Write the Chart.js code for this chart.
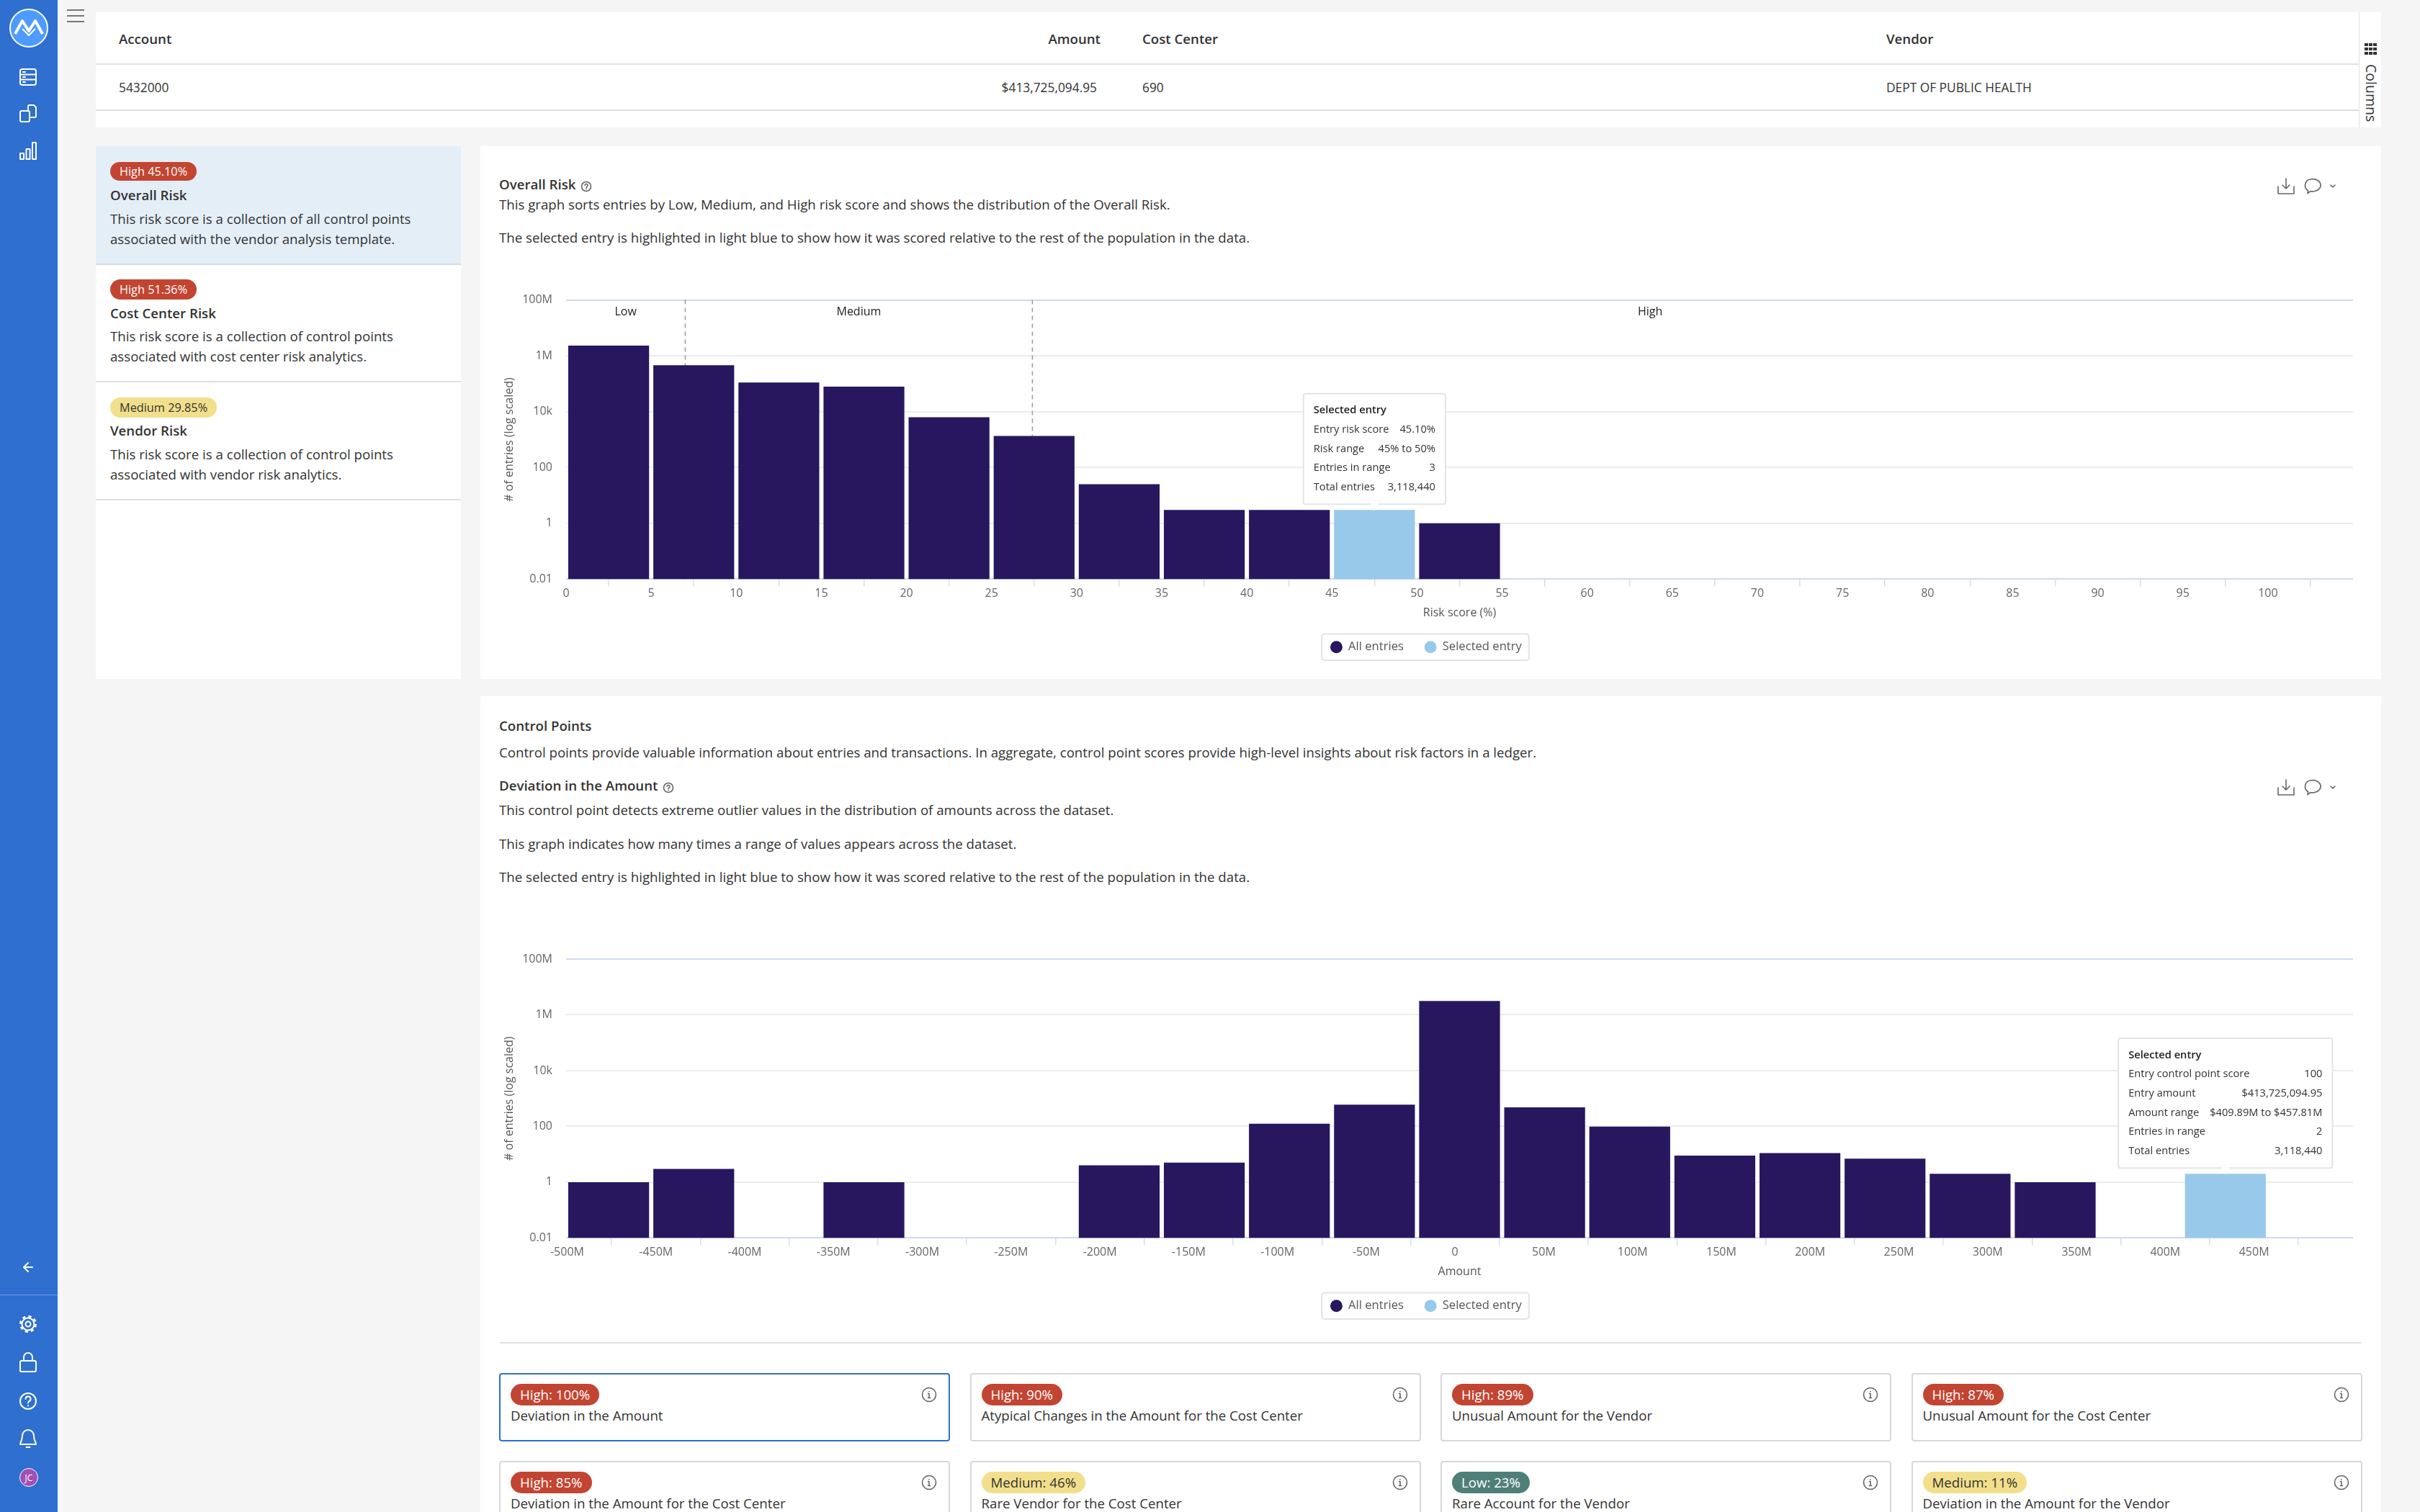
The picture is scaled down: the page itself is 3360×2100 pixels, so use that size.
<!DOCTYPE html>
<html>
<head>
<meta charset="utf-8">
<title>Overall Risk</title>
<script src="https://cdn.jsdelivr.net/npm/chart.js@4"></script>
<style>
  html, body { margin: 0; padding: 0; }
  body { position: relative; width: 3360px; height: 2100px; overflow: hidden; background: #f5f5f5;
         font-family: "Open Sans", sans-serif; font-size: 18.67px; color: #333; }
  .box { position: absolute; background: #fff; }
  .t { position: absolute; white-space: nowrap; transform: translateY(-50%); line-height: 1; }
  .b { font-weight: 600; }
  .cell { font-size: 17.33px; }
  .badge { position: absolute; border-radius: 14px; padding: 0 13px; color: #fff; line-height: 28px; height: 28px; white-space: nowrap; font-size: 16.3px; }
  .high { background: #c24532; }
  .medium { background: #f2df8b; color: #333; }
  .low { background: #4f8078; }
  .card { position: absolute; width: 622px; height: 91px; background: #fff; border: 2px solid #d8d8d8; border-radius: 4px; }
  .card.sel { border-color: #2e6fd0; }
  .card .badge { left: 14px; top: 13px; height: 30px; line-height: 30px; border-radius: 15px; font-size: 18.67px; padding: 0 13px; }
  .card .t { left: 14px; top: 57px; }
  .card svg { position: absolute; right: 17px; top: 18px; }
  .hline { position: absolute; height: 2px; background: #e2e2e2; }
  .side { position: absolute; left: 0; top: 0; width: 80px; height: 2100px; background: #2e6fd0; }
  svg { position: absolute; overflow: visible; }
  .w { fill: none; stroke: #fff; stroke-width: 2; stroke-linecap: round; stroke-linejoin: round; }
  .g { fill: none; stroke: #666; stroke-width: 1.6; stroke-linecap: round; stroke-linejoin: round; }
  canvas { position: absolute; }
</style>
</head>
<body>

<div class="side">
  <svg style="left:13px;top:12px" width="54" height="54" viewBox="0 0 54 54">
    <circle cx="27" cy="27" r="26" fill="#4d9bff" stroke="#fff" stroke-width="2"/>
    <path d="M8 35 L18 17 L27 31 L36 17 L46 35" fill="none" stroke="#fff" stroke-width="4" stroke-linejoin="round"/>
    <path d="M18 28 L27 37 L36 28" fill="none" stroke="#fff" stroke-width="2"/>
  </svg>
  <svg style="left:27px;top:95px" width="24" height="24" viewBox="0 0 24 24">
    <rect class="w" x="1" y="1" width="22" height="22" rx="3"/>
    <path class="w" d="M1 8.5H23M1 15.5H23M5 5H8M5 12H8M5 19H8"/>
  </svg>
  <svg style="left:27px;top:145px" width="24" height="24" viewBox="0 0 24 24">
    <path class="w" d="M12 9V3a2 2 0 0 1 2-2h6l3 3v12a2 2 0 0 1-2 2h-5"/>
    <rect class="w" x="1" y="9" width="13" height="15" rx="2"/>
  </svg>
  <svg style="left:27px;top:197px" width="24" height="24" viewBox="0 0 24 24">
    <path class="w" d="M1 16h5v8H1zM9.5 10h5v14h-5zM18 1h5v23h-5z"/>
  </svg>
  <svg style="left:31px;top:1752px" width="16" height="16" viewBox="0 0 16 16">
    <path class="w" d="M14 8H2M8 2L2 8l6 6" stroke-width="2.4"/>
  </svg>
  <div style="position:absolute;left:0;top:1798px;width:80px;height:1px;background:rgba(255,255,255,.3)"></div>
  <svg style="left:27px;top:1827px" width="24" height="24" viewBox="0 0 24 24">
    <circle class="w" cx="12" cy="12" r="3.500"/>
    <circle class="w" cx="12" cy="12" r="8.500"/>
    <circle cx="12" cy="12" r="10.500" fill="none" stroke="#fff" stroke-width="3" stroke-dasharray="4.200 4.050"/>
  </svg>
  <svg style="left:27px;top:1878px" width="24" height="28" viewBox="0 0 24 28">
    <rect class="w" x="1" y="12" width="22" height="15" rx="2"/>
    <path class="w" d="M6 12V7a6 6 0 0 1 12 0v5"/>
  </svg>
  <svg style="left:27px;top:1934px" width="24" height="24" viewBox="0 0 24 24">
    <circle class="w" cx="12" cy="12" r="11"/>
    <path class="w" d="M8.500 9a3.500 3.500 0 1 1 5 3.200c-1 .6-1.500 1.200-1.500 2.300M12 18v.5"/>
  </svg>
  <svg style="left:27px;top:1985px" width="24" height="27" viewBox="0 0 24 27">
    <path class="w" d="M12 1a8 8 0 0 0-8 8c0 7-3 9-3 12h22c0-3-3-5-3-12a8 8 0 0 0-8-8zM9.500 25h5"/>
  </svg>
  <svg style="left:27px;top:2039px" width="26" height="26" viewBox="0 0 26 26">
    <circle cx="13" cy="13" r="12.500" fill="#a24fb5" stroke="#fff" stroke-width="1"/>
    <text x="13" y="18" text-anchor="middle" font-size="12" fill="#fff" font-family="Open Sans">JC</text>
  </svg>
</div>

<svg style="left:93px;top:13px" width="24" height="18" viewBox="0 0 24 18">
  <path d="M0 1H24M0 9H24M0 17H24" stroke="#777" stroke-width="1.800"/>
</svg>

<!-- tabla superior -->
<div class="box" style="left:133px;top:17px;width:3173px;height:160px"></div>
<div class="hline" style="left:133px;top:88px;width:3142px"></div>
<div class="hline" style="left:133px;top:152px;width:3142px"></div>
<div class="t b" style="left:165px;top:54px">Account</div>
<div class="t b" style="right:1832px;top:54px">Amount</div>
<div class="t b" style="left:1586px;top:54px">Cost Center</div>
<div class="t b" style="left:2619px;top:54px">Vendor</div>
<div class="t cell" style="left:165px;top:122px">5432000</div>
<div class="t cell" style="right:1837px;top:122px">$413,725,094.95</div>
<div class="t cell" style="left:1586px;top:122px">690</div>
<div class="t cell" style="left:2619px;top:122px">DEPT OF PUBLIC HEALTH</div>
<div style="position:absolute;left:3275px;top:17px;width:1px;height:160px;background:#e2e2e2"></div>
<svg style="left:3283px;top:60px" width="17" height="16" viewBox="0 0 17 16">
  <path d="M0 0h5v4H0zM6 0h5v4H6zM12 0h5v4h-5zM0 6h5v4H0zM6 6h5v4H6zM12 6h5v4h-5zM0 12h5v4H0zM6 12h5v4H6zM12 12h5v4h-5z" fill="#333"/>
</svg>
<div style="position:absolute;left:3281px;top:89px;writing-mode:vertical-rl;line-height:22px;font-size:19.5px;white-space:nowrap">Columns</div>

<!-- lista izquierda -->
<div class="box" style="left:133px;top:203px;width:507px;height:740px"></div>
<div style="position:absolute;left:133px;top:203px;width:507px;height:163px;background:#e4eef7"></div>
<div class="hline" style="left:133px;top:366px;width:507px;background:#d7dde3"></div>
<div class="hline" style="left:133px;top:529px;width:507px;background:#dfdfdf"></div>
<div class="hline" style="left:133px;top:693px;width:507px;background:#dfdfdf"></div>

<div class="badge high" style="left:153px;top:225px;height:26px;line-height:26px">High 45.10%</div>
<div class="t b" style="left:153px;top:271px">Overall Risk</div>
<div class="t" style="left:153px;top:304px">This risk score is a collection of all control points</div>
<div class="t" style="left:153px;top:332px">associated with the vendor analysis template.</div>

<div class="badge high" style="left:153px;top:388px">High 51.36%</div>
<div class="t b" style="left:153px;top:435px">Cost Center Risk</div>
<div class="t" style="left:153px;top:467px">This risk score is a collection of control points</div>
<div class="t" style="left:153px;top:495px">associated with cost center risk analytics.</div>

<div class="badge medium" style="left:153px;top:552px">Medium 29.85%</div>
<div class="t b" style="left:153px;top:598px">Vendor Risk</div>
<div class="t" style="left:153px;top:631px">This risk score is a collection of control points</div>
<div class="t" style="left:153px;top:659px">associated with vendor risk analytics.</div>

<!-- panel Overall Risk -->
<div class="box" style="left:667px;top:203px;width:2639px;height:740px"></div>
<div class="t b" style="left:693px;top:256px">Overall Risk</div>
<svg style="left:807px;top:252px" width="14" height="14" viewBox="0 0 14 14">
  <circle class="g" cx="7" cy="7" r="6.500" stroke-width="1"/><path class="g" d="M5 5.500a2 2 0 1 1 3 1.700c-.7.400-1 .8-1 1.500M7 10.500v.3" stroke-width="1"/>
</svg>
<div class="t" style="left:693px;top:284px">This graph sorts entries by Low, Medium, and High risk score and shows the distribution of the Overall Risk.</div>
<div class="t" style="left:693px;top:330px">The selected entry is highlighted in light blue to show how it was scored relative to the rest of the population in the data.</div>
<svg style="left:3162px;top:248px" width="84" height="22" viewBox="0 0 84 22">
  <path class="g" d="M12 0v14M7 9l5 5 5-5M1 11v10h22V11"/>
  <path class="g" d="M46 1a11 8.500 0 0 1 6 16.500c-2 .5-4 .5-6 .2l-4 3 .6-4A8.500 8.500 0 0 1 46 1z"/>
  <path class="g" d="M74 9l3 3 3-3" stroke-width="1"/>
</svg>
<canvas id="riskChart" width="2574" height="535" style="left:693px;top:386px;width:2574px;height:535px"></canvas>

<!-- panel Control Points -->
<div class="box" style="left:667px;top:967px;width:2639px;height:1133px"></div>
<div class="t b" style="left:693px;top:1008px">Control Points</div>
<div class="t" style="left:693px;top:1045px">Control points provide valuable information about entries and transactions. In aggregate, control point scores provide high-level insights about risk factors in a ledger.</div>
<div class="t b" style="left:693px;top:1091px">Deviation in the Amount</div>
<svg style="left:921px;top:1087px" width="14" height="14" viewBox="0 0 14 14">
  <circle class="g" cx="7" cy="7" r="6.500" stroke-width="1"/><path class="g" d="M5 5.500a2 2 0 1 1 3 1.700c-.7.400-1 .8-1 1.500M7 10.500v.3" stroke-width="1"/>
</svg>
<div class="t" style="left:693px;top:1125px">This control point detects extreme outlier values in the distribution of amounts across the dataset.</div>
<div class="t" style="left:693px;top:1172px">This graph indicates how many times a range of values appears across the dataset.</div>
<div class="t" style="left:693px;top:1218px">The selected entry is highlighted in light blue to show how it was scored relative to the rest of the population in the data.</div>
<svg style="left:3162px;top:1083px" width="84" height="22" viewBox="0 0 84 22">
  <path class="g" d="M12 0v14M7 9l5 5 5-5M1 11v10h22V11"/>
  <path class="g" d="M46 1a11 8.500 0 0 1 6 16.500c-2 .5-4 .5-6 .2l-4 3 .6-4A8.500 8.500 0 0 1 46 1z"/>
  <path class="g" d="M74 9l3 3 3-3" stroke-width="1"/>
</svg>
<canvas id="amountChart" width="2574" height="535" style="left:693px;top:1301px;width:2574px;height:535px"></canvas>
<div class="hline" style="left:694px;top:1864px;width:2585px"></div>

<div id="cards"></div>

<script>
// === Datos ===
const yTickValues = [0.01, 1, 100, 10000, 1000000, 100000000];
const yTickLabels = ['0.01', '1', '100', '10k', '1M', '100M'];

const riskBinStarts = [0, 5, 10, 15, 20, 25, 30, 35, 40, 45, 50, 55, 60, 65, 70, 75, 80, 85, 90, 95, 100];
const riskBinWidth = 5;
const riskCounts = [2300000, 457000, 110000, 78000, 6300, 1350, 25, 3, 3, null, 1, null, null, null, null, null, null, null, null, null, null];
const riskSelected = [null, null, null, null, null, null, null, null, null, 3, null, null, null, null, null, null, null, null, null, null, null];
const riskTicks = [0, 5, 10, 15, 20, 25, 30, 35, 40, 45, 50, 55, 60, 65, 70, 75, 80, 85, 90, 95, 100];
const riskTickLabels = ['0', '5', '10', '15', '20', '25', '30', '35', '40', '45', '50', '55', '60', '65', '70', '75', '80', '85', '90', '95', '100'];
const zoneEdges = [0, 7, 27.4, 100];
const zoneNames = ['Low', 'Medium', 'High'];
const riskTipLabels = ['Entry risk score', 'Risk range', 'Entries in range', 'Total entries'];
const riskTipValues = ['45.10%', '45% to 50%', '3', '3,118,440'];

// en millones
const amountBinStarts = [-500.59, -452.67, -404.75, -356.83, -308.91, -260.99, -213.07, -165.15, -117.23, -69.31, -21.39, 26.53, 74.45, 122.37, 170.29, 218.21, 266.13, 314.05, 361.97, 409.89, 457.81];
const amountBinWidth = 47.92;
const amountCounts = [1, 3, null, 1, null, null, 4, 5, 124, 600, 3117000, 480, 98, 9, 11, 7, 2, 1, null, null, null];
const amountSelected = [null, null, null, null, null, null, null, null, null, null, null, null, null, null, null, null, null, null, null, 2, null];
const amountTicks = [-500, -450, -400, -350, -300, -250, -200, -150, -100, -50, 0, 50, 100, 150, 200, 250, 300, 350, 400, 450];
const amountTickLabels = ['-500M', '-450M', '-400M', '-350M', '-300M', '-250M', '-200M', '-150M', '-100M', '-50M', '0', '50M', '100M', '150M', '200M', '250M', '300M', '350M', '400M', '450M'];
const amountTipLabels = ['Entry control point score', 'Entry amount', 'Amount range', 'Entries in range', 'Total entries'];
const amountTipValues = ['100', '$413,725,094.95', '$409.89M to $457.81M', '2', '3,118,440'];

const cardNames = ['Deviation in the Amount', 'Atypical Changes in the Amount for the Cost Center', 'Unusual Amount for the Vendor', 'Unusual Amount for the Cost Center',
  'Deviation in the Amount for the Cost Center', 'Rare Vendor for the Cost Center', 'Rare Account for the Vendor', 'Deviation in the Amount for the Vendor'];
const cardLevels = ['High', 'High', 'High', 'High', 'High', 'Medium', 'Low', 'Medium'];
const cardScores = [100, 90, 89, 87, 85, 46, 23, 11];

// === Tarjetas ===
const cardsEl = document.getElementById('cards');
cardNames.forEach((name, i) => {
  const col = i % 4, row = Math.floor(i / 4);
  const card = document.createElement('div');
  card.className = 'card' + (i === 0 ? ' sel' : '');
  card.style.left = (693 + col * 653.5) + 'px';
  card.style.top = (1907 + row * 122) + 'px';
  card.innerHTML = `<div class="badge ${cardLevels[i].toLowerCase()}">${cardLevels[i]}: ${cardScores[i]}%</div>
    <div class="t">${name}</div>
    <svg width="20" height="20" viewBox="0 0 20 20"><circle class="g" cx="10" cy="10" r="9.500" stroke-width="1.200"/><path class="g" d="M10 8.500v6M10 5.500v.3M8.500 8.500H10M8.500 14.500h3" stroke-width="1"/></svg>`;
  cardsEl.appendChild(card);
});

// === Gráficas ===
Chart.defaults.font.family = '"Open Sans", sans-serif';
Chart.defaults.font.size = 16;
Chart.defaults.animation = false;

const NAVY = '#28175f';
const LIGHT = '#98c9ea';

// Marco redondeado alrededor de la leyenda
const legendFrame = {
  id: 'legendFrame',
  beforeDraw(chart) {
    const boxes = chart.legend.legendHitBoxes;
    const first = boxes[0], last = boxes[boxes.length - 1];
    const ctx = chart.ctx;
    ctx.save();
    ctx.beginPath();
    ctx.roundRect(first.left - 12, first.top - 10, last.left + last.width - first.left + 22, first.height + 20, 4);
    ctx.strokeStyle = '#e3e3e3';
    ctx.lineWidth = 2;
    ctx.stroke();
    ctx.restore();
  }
};

// Zonas Low / Medium / High
const zonesPlugin = {
  id: 'zones',
  beforeDatasetsDraw(chart) {
    const { ctx, chartArea } = chart;
    const x = chart.scales.x;
    ctx.save();
    ctx.strokeStyle = '#9a9a9a';
    ctx.lineWidth = 1.5;
    ctx.setLineDash([6, 5]);
    zoneEdges.slice(1, -1).forEach(edge => {
      const px = x.getPixelForValue(edge);
      ctx.beginPath();
      ctx.moveTo(px, chartArea.top);
      ctx.lineTo(px, chartArea.bottom);
      ctx.stroke();
    });
    ctx.setLineDash([]);
    ctx.fillStyle = '#222';
    ctx.font = '16px "Open Sans"';
    ctx.textAlign = 'center';
    ctx.textBaseline = 'middle';
    zoneNames.forEach((name, i) => {
      ctx.fillText(name, x.getPixelForValue((zoneEdges[i] + zoneEdges[i + 1]) / 2), chartArea.top + 17);
    });
    ctx.restore();
  }
};

// Tooltip fijo sobre la barra seleccionada
function selectedTip(labels, values, index) {
  return {
    id: 'selectedTip',
    afterDatasetsDraw(chart) {
      const bar = chart.getDatasetMeta(1).data[index];
      const ctx = chart.ctx;
      ctx.save();
      ctx.font = '14.67px "Open Sans"';
      let inner = 0;
      labels.forEach((l, i) => {
        inner = Math.max(inner, ctx.measureText(l).width + 15 + ctx.measureText(values[i]).width);
      });
      const rowH = 26.7;
      const w = inner + 28;
      const h = (labels.length + 1) * rowH + 20;
      const left = bar.x - w / 2;
      const bottom = bar.y - 8;
      const top = bottom - h;
      ctx.beginPath();
      ctx.roundRect(left, top, w, h, 3);
      ctx.fillStyle = '#fff';
      ctx.fill();
      ctx.strokeStyle = '#e4e4e4';
      ctx.lineWidth = 2;
      ctx.stroke();
      ctx.beginPath();
      ctx.moveTo(bar.x - 6, bottom - 1);
      ctx.lineTo(bar.x, bar.y + 1);
      ctx.lineTo(bar.x + 6, bottom - 1);
      ctx.fill();
      ctx.textBaseline = 'middle';
      ctx.fillStyle = '#222';
      ctx.font = '600 14.67px "Open Sans"';
      ctx.textAlign = 'left';
      ctx.fillText('Selected entry', left + 14, top + 10 + rowH / 2);
      ctx.font = '14.67px "Open Sans"';
      ctx.fillStyle = '#333';
      labels.forEach((l, i) => {
        const y = top + 10 + rowH * (i + 1.5);
        ctx.textAlign = 'left';
        ctx.fillText(l, left + 14, y);
        ctx.textAlign = 'right';
        ctx.fillText(values[i], left + w - 14, y);
      });
      ctx.restore();
    }
  };
}

function histogram(id, cfg) {
  const toPoints = (arr) => arr.map((v, i) => ({ x: cfg.starts[i] + cfg.width / 2, y: v }));
  return new Chart(document.getElementById(id), {
    type: 'bar',
    data: {
      datasets: [
        { label: 'All entries', data: toPoints(cfg.counts), backgroundColor: NAVY },
        { label: 'Selected entry', data: toPoints(cfg.selected), backgroundColor: LIGHT }
      ]
    },
    plugins: [legendFrame, selectedTip(cfg.tipLabels, cfg.tipValues, cfg.selected.findIndex(v => v !== null))].concat(cfg.extra || []),
    options: {
      responsive: false,
      maintainAspectRatio: false,
      grouped: false,
      barPercentage: 0.95,
      categoryPercentage: 1,
      layout: { padding: { top: cfg.padTop, bottom: 4 } },
      plugins: {
        tooltip: { enabled: false },
        legend: {
          position: 'bottom',
          labels: { usePointStyle: true, pointStyle: 'circle', boxWidth: 18, boxHeight: 12, padding: 29, color: '#555', font: { size: 16.6 } }
        }
      },
      scales: {
        x: {
          type: 'linear',
          offset: false,
          min: cfg.xMin,
          max: cfg.xMax,
          afterBuildTicks: (axis) => { axis.ticks = cfg.ticks.map(v => ({ value: v })); },
          afterFit: (axis) => { axis.height = 57; },
          ticks: {
            padding: 0, color: '#666', autoSkip: false, maxRotation: 0,
            callback: (v) => cfg.tickLabels[cfg.ticks.indexOf(v)]
          },
          grid: { drawOnChartArea: false, drawTicks: true, tickLength: 10, color: '#d5deee', lineWidth: 1.5 },
          border: { display: false },
          title: { display: true, text: cfg.xTitle, color: '#555', padding: 0 }
        },
        y: {
          type: 'logarithmic',
          min: 0.01,
          max: 100000000,
          afterBuildTicks: (axis) => { axis.ticks = yTickValues.map(v => ({ value: v })); },
          afterFit: (axis) => { axis.width = 93; },
          ticks: {
            padding: 19, color: '#666', autoSkip: false,
            callback: (v) => yTickLabels[yTickValues.indexOf(v)]
          },
          grid: {
            drawTicks: false,
            lineWidth: 2,
            color: (c) => (c.index === 0 || c.index === yTickValues.length - 1) ? '#cfd9ee' : '#ececec'
          },
          border: { display: false },
          title: { display: true, text: '# of entries (log scaled)', color: '#555', padding: { top: 5, bottom: 0 } }
        }
      }
    }
  });
}

histogram('riskChart', {
  starts: riskBinStarts, width: riskBinWidth, counts: riskCounts, selected: riskSelected,
  xMin: 0, xMax: 105, ticks: riskTicks, tickLabels: riskTickLabels, xTitle: 'Risk score (%)',
  tipLabels: riskTipLabels, tipValues: riskTipValues, padTop: 30.5, extra: [zonesPlugin]
});

histogram('amountChart', {
  starts: amountBinStarts, width: amountBinWidth, counts: amountCounts, selected: amountSelected,
  xMin: -500.59, xMax: 505.73, ticks: amountTicks, tickLabels: amountTickLabels, xTitle: 'Amount',
  tipLabels: amountTipLabels, tipValues: amountTipValues, padTop: 31
});
</script>
</body>
</html>
